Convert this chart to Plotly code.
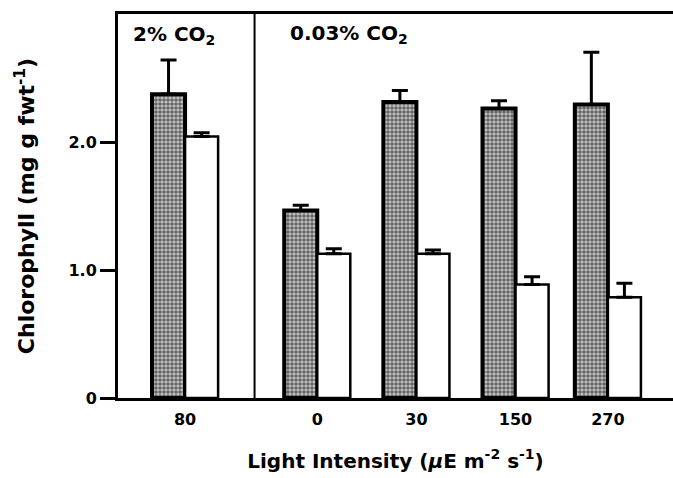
import plotly.graph_objects as go

# ---- data ----
light_labels = ["80", "0", "30", "150", "270"]
group_pos = [-1.36, 0.0, 1.02, 2.04, 2.99]   # layout positions of groups
dark_vals = [2.38, 1.47, 2.32, 2.27, 2.30]
dark_err = [0.27, 0.04, 0.09, 0.06, 0.41]
white_vals = [2.05, 1.13, 1.13, 0.89, 0.79]
white_err = [0.03, 0.04, 0.03, 0.06, 0.11]
y_ticks = [0, 1.0, 2.0]
y_tick_text = ["0", "1.0", "2.0"]

BW = 0.34
FONT = "DejaVu Sans, sans-serif"

fig = go.Figure()
fig.add_trace(go.Bar(
    x=group_pos, y=dark_vals, width=BW, offset=-BW,
    marker=dict(color="#c8c8c8",
                line=dict(color="black", width=4),
                pattern=dict(shape=".", fgcolor="black", bgcolor="#c8c8c8",
                             size=4, solidity=0.62)),
    error_y=dict(type="data", array=dark_err, arrayminus=[0]*5, symmetric=False,
                 color="black", thickness=3, width=8),
    showlegend=False,
))
fig.add_trace(go.Bar(
    x=group_pos, y=white_vals, width=BW, offset=0,
    marker=dict(color="white", line=dict(color="black", width=2.5)),
    error_y=dict(type="data", array=white_err, arrayminus=[0]*5, symmetric=False,
                 color="black", thickness=3, width=8),
    showlegend=False,
))

fig.update_layout(
    width=673, height=478,
    margin=dict(l=118, r=0, t=14, b=80),
    plot_bgcolor="white", paper_bgcolor="white",
    font=dict(family=FONT, color="black"),
    xaxis=dict(range=[-2.05, 3.66], autorange=False, tickvals=group_pos,
               ticktext=["<b>%s</b>" % t for t in light_labels],
               tickfont=dict(size=16), ticks="", ticklabelstandoff=5,
               showgrid=False, zeroline=False,
               showline=True, linecolor="black", linewidth=3, mirror=True,
               title=dict(text="<b>Light Intensity (<i>μ</i>E m<sup>-2</sup> s<sup>-1</sup>)</b>",
                          font=dict(size=20), standoff=26)),
    yaxis=dict(range=[0, 3.01], autorange=False, tickvals=y_ticks,
               ticktext=["<b>%s</b>" % t for t in y_tick_text],
               tickfont=dict(size=16), ticks="outside", ticklen=15, tickwidth=3,
               tickcolor="black",
               showgrid=False, zeroline=False,
               showline=True, linecolor="black", linewidth=3,
               title=dict(text="<b>Chlorophyll (mg g fwt<sup>-1</sup>)</b>",
                          font=dict(size=22), standoff=28)),
    shapes=[dict(type="line", xref="x", yref="paper", x0=-0.645, x1=-0.645,
                 y0=0, y1=1, line=dict(color="black", width=2))],
    annotations=[
        dict(text="<b>2% CO<sub>2</sub></b>", xref="paper", yref="paper",
             x=(131 - 118) / 555, y=1 - (20 - 14) / 384, xanchor="left", yanchor="top",
             showarrow=False, font=dict(size=20)),
        dict(text="<b>0.03% CO<sub>2</sub></b>", xref="paper", yref="paper",
             x=(288 - 118) / 555, y=1 - (19 - 14) / 384, xanchor="left", yanchor="top",
             showarrow=False, font=dict(size=20)),
    ],
)

fig.write_html("out.html")
